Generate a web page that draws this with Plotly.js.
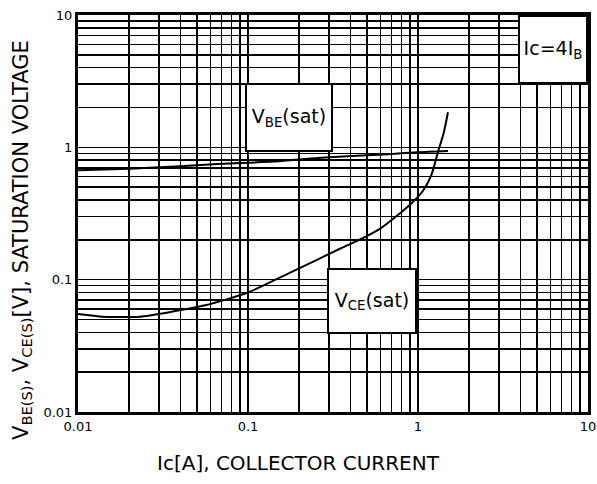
<!DOCTYPE html>
<html>
<head>
<meta charset="utf-8">
<script src="https://cdn.plot.ly/plotly-3.0.1.min.js"></script>
<style>
html,body{margin:0;padding:0;background:#fff;}
#chart{width:597px;height:484px;}
</style>
</head>
<body>
<div id="chart"></div>
<script>
// Ic [A]
const vbeIc = [0.01, 0.02, 0.04, 0.07, 0.14, 0.2, 0.3, 0.5, 0.7, 1.0, 1.5];
const vbeV  = [0.67, 0.69, 0.72, 0.75, 0.78, 0.81, 0.84, 0.87, 0.89, 0.92, 0.94];

const vceIc = [0.01, 0.014, 0.023, 0.035, 0.056, 0.1, 0.177, 0.35, 0.47, 0.6, 0.73, 0.9, 1.07, 1.2, 1.31, 1.42, 1.5];
const vceV  = [0.055, 0.0525, 0.0525, 0.057, 0.064, 0.08, 0.113, 0.172, 0.205, 0.243, 0.295, 0.37, 0.47, 0.62, 0.92, 1.3, 1.84];

const xDecades = [0.01, 0.1, 1, 10];
const xDecadeLabels = ['0.01', '0.1', '1', '10'];
const yDecades = [0.01, 0.1, 1, 10];
const yDecadeLabels = ['0.01', '0.1', '1', '10'];

const xTitle = 'Ic[A], COLLECTOR CURRENT';
const yTitle = 'V<sub>BE(S)</sub>, V<sub>CE(S)</sub>[V], SATURATION VOLTAGE';

function minorVals(decades) {
  const vals = [];
  for (let i = 0; i < decades.length - 1; i++) {
    for (let m = 2; m <= 9; m++) vals.push(+(decades[i] * m).toPrecision(3));
  }
  return vals;
}

const font = "DejaVu Sans, sans-serif";

const traces = [
  {x: vbeIc, y: vbeV, mode: 'lines', line: {color: '#000', width: 2, shape: 'spline', smoothing: 0.6}, name: 'VBE(sat)', hoverinfo: 'skip'},
  {x: vceIc, y: vceV, mode: 'lines', line: {color: '#000', width: 2, shape: 'spline', smoothing: 0.6}, name: 'VCE(sat)', hoverinfo: 'skip'}
];

const gridStyle = {showgrid: true, gridcolor: '#000', gridwidth: 1.5};

const layout = {
  width: 597, height: 484,
  margin: {l: 78, r: 9, t: 15, b: 72},
  paper_bgcolor: '#fff', plot_bgcolor: '#fff',
  showlegend: false,
  font: {family: font, color: '#000', size: 14},
  xaxis: Object.assign({
    type: 'log', range: [-2, 1],
    tickmode: 'array', tickvals: xDecades, ticktext: xDecadeLabels,
    ticks: '',
    minor: Object.assign({tickmode: 'array', tickvals: minorVals(xDecades), ticks: ''}, gridStyle),
    showline: true, linecolor: '#000', linewidth: 3, mirror: true,
    zeroline: false, tickfont: {size: 13, family: font}
  }, gridStyle),
  yaxis: Object.assign({
    type: 'log', range: [-2, 1],
    tickmode: 'array', tickvals: yDecades, ticktext: yDecadeLabels,
    ticks: '',
    minor: Object.assign({tickmode: 'array', tickvals: minorVals(yDecades), ticks: ''}, gridStyle),
    showline: true, linecolor: '#000', linewidth: 3, mirror: true,
    zeroline: false, tickfont: {size: 13, family: font}
  }, gridStyle),
  annotations: [
    {xref: 'paper', yref: 'paper', x: 0.432, y: -0.128, xanchor: 'center', yanchor: 'middle',
     text: xTitle, showarrow: false, font: {size: 20, family: font}},
    {xref: 'paper', yref: 'paper', x: -0.11, y: 0.433, xanchor: 'center', yanchor: 'middle', textangle: -90,
     text: yTitle, showarrow: false, font: {size: 21, family: font}},
    {xref: 'paper', yref: 'paper', x: 0.414, y: 0.742, xanchor: 'center', yanchor: 'middle',
     text: 'V<sub>BE</sub>(sat)', showarrow: false, bgcolor: '#fff', bordercolor: '#000', borderwidth: 2,
     width: 84, height: 65, borderpad: 0, font: {size: 19, family: font}},
    {xref: 'paper', yref: 'paper', x: 0.5765, y: 0.2796, xanchor: 'center', yanchor: 'middle',
     text: 'V<sub>CE</sub>(sat)', showarrow: false, bgcolor: '#fff', bordercolor: '#000', borderwidth: 2,
     width: 86, height: 62, borderpad: 0, font: {size: 19, family: font}},
    {xref: 'paper', yref: 'paper', x: 0.931, y: 0.913, xanchor: 'center', yanchor: 'middle',
     text: 'Ic=4I<sub>B</sub>', showarrow: false, bgcolor: '#fff', bordercolor: '#000', borderwidth: 2,
     width: 66, height: 65, borderpad: 0, font: {size: 19, family: font}}
  ]
};

Plotly.newPlot('chart', traces, layout, {staticPlot: true, displayModeBar: false});
</script>
</body>
</html>
